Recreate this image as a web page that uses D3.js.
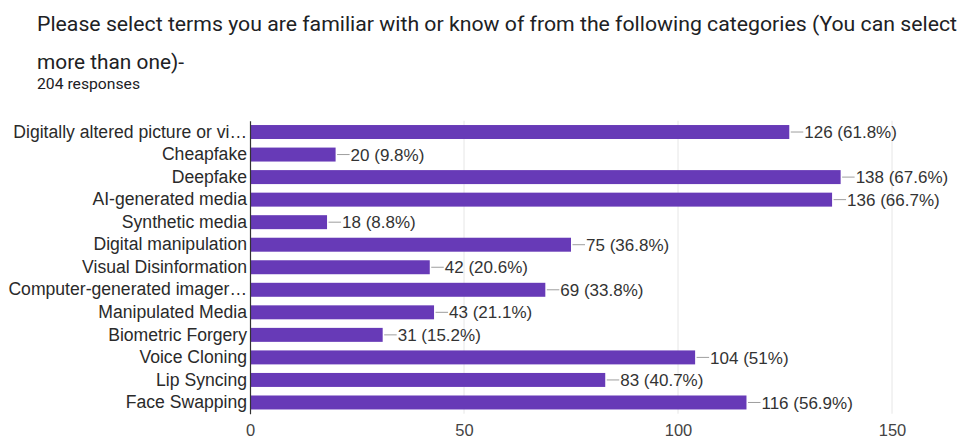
<!DOCTYPE html>
<html>
<head>
<meta charset="utf-8">
<script src="https://cdn.jsdelivr.net/npm/d3@7/dist/d3.min.js"></script>
<style>
  html, body { margin: 0; padding: 0; background: #fff; }
  svg { display: block; }
</style>
</head>
<body>
<svg id="chart" width="963" height="441"></svg>
<script>
// Survey answers: terms respondents recognise
const categories = [
  "Digitally altered picture or vi\u2026",
  "Cheapfake",
  "Deepfake",
  "AI-generated media",
  "Synthetic media",
  "Digital manipulation",
  "Visual Disinformation",
  "Computer-generated imager\u2026",
  "Manipulated Media",
  "Biometric Forgery",
  "Voice Cloning",
  "Lip Syncing",
  "Face Swapping"
];
const counts = [126, 20, 138, 136, 18, 75, 42, 69, 43, 31, 104, 83, 116];
const percentLabels = ["61.8%", "9.8%", "67.6%", "66.7%", "8.8%", "36.8%", "20.6%", "33.8%", "21.1%", "15.2%", "51%", "40.7%", "56.9%"];
const tickValues = [0, 50, 100, 150];
const titleLines = [
  "Please select terms you are familiar with or know of from the following categories (You can select",
  "more than one)-"
];
const responsesText = "204 responses";

const svg = d3.select("#chart");
const font = "Arial, 'Liberation Sans', sans-serif";
const titleFont = "Roboto, 'Noto Sans', sans-serif";

// Heading
svg.append("text")
  .attr("x", 37).attr("y", 31)
  .attr("font-family", titleFont).attr("font-size", 21)
  .attr("fill", "#202124")
  .attr("textLength", 920).attr("lengthAdjust", "spacingAndGlyphs")
  .text(titleLines[0]);
svg.append("text")
  .attr("x", 37).attr("y", 69)
  .attr("font-family", titleFont).attr("font-size", 21)
  .attr("fill", "#202124")
  .attr("textLength", 147).attr("lengthAdjust", "spacingAndGlyphs")
  .text(titleLines[1]);
svg.append("text")
  .attr("x", 37).attr("y", 89)
  .attr("font-family", titleFont).attr("font-size", 14)
  .attr("fill", "#202124")
  .attr("textLength", 103).attr("lengthAdjust", "spacingAndGlyphs")
  .text(responsesText);

// Plot area
const plotLeft = 250, plotRight = 892, plotTop = 120.75, plotBottom = 413.75;

const x = d3.scaleLinear().domain([0, 150]).range([plotLeft, plotRight]);
const y = d3.scaleBand().domain(categories).range([plotTop, plotBottom]).paddingInner(0.38).paddingOuter(0.19);

// Vertical gridlines
svg.append("g")
  .selectAll("line")
  .data(tickValues.filter(d => d > 0))
  .join("line")
  .attr("x1", d => x(d)).attr("x2", d => x(d))
  .attr("y1", plotTop).attr("y2", plotBottom)
  .attr("stroke", "#e6e6e6").attr("stroke-width", 1);

// Bars
svg.append("g")
  .selectAll("rect")
  .data(counts)
  .join("rect")
  .attr("x", x(0))
  .attr("y", (d, i) => y(categories[i]))
  .attr("width", d => x(d) - x(0))
  .attr("height", y.bandwidth())
  .attr("fill", "#673ab7");

// Leader lines and value labels
const valueGroup = svg.append("g");
counts.forEach((d, i) => {
  const cy = y(categories[i]) + y.bandwidth() / 2;
  valueGroup.append("line")
    .attr("x1", x(d) + 1.5).attr("x2", x(d) + 14)
    .attr("y1", cy).attr("y2", cy)
    .attr("stroke", "#9e9e9e").attr("stroke-width", 1);
  valueGroup.append("text")
    .attr("x", x(d) + 15).attr("y", cy)
    .attr("dy", "0.36em")
    .attr("font-family", font).attr("font-size", 17)
    .attr("fill", "#333")
    .text(`${d} (${percentLabels[i]})`);
});

// Category axis
const yAxis = svg.append("g")
  .attr("transform", `translate(${plotLeft},0)`)
  .call(d3.axisLeft(y).tickSize(0).tickPadding(3));
yAxis.select(".domain").attr("stroke", "#333").attr("stroke-width", 1.2);
yAxis.selectAll("text")
  .attr("font-family", font).attr("font-size", 17.6)
  .attr("fill", "#2a2a2a");

// Value axis
const xAxis = svg.append("g")
  .attr("transform", `translate(0,${plotBottom})`)
  .call(d3.axisBottom(x).tickValues(tickValues).tickSize(0).tickPadding(11));
xAxis.select(".domain").remove();
xAxis.selectAll("text")
  .attr("font-family", font).attr("font-size", 16.5)
  .attr("fill", "#444");
</script>
</body>
</html>
